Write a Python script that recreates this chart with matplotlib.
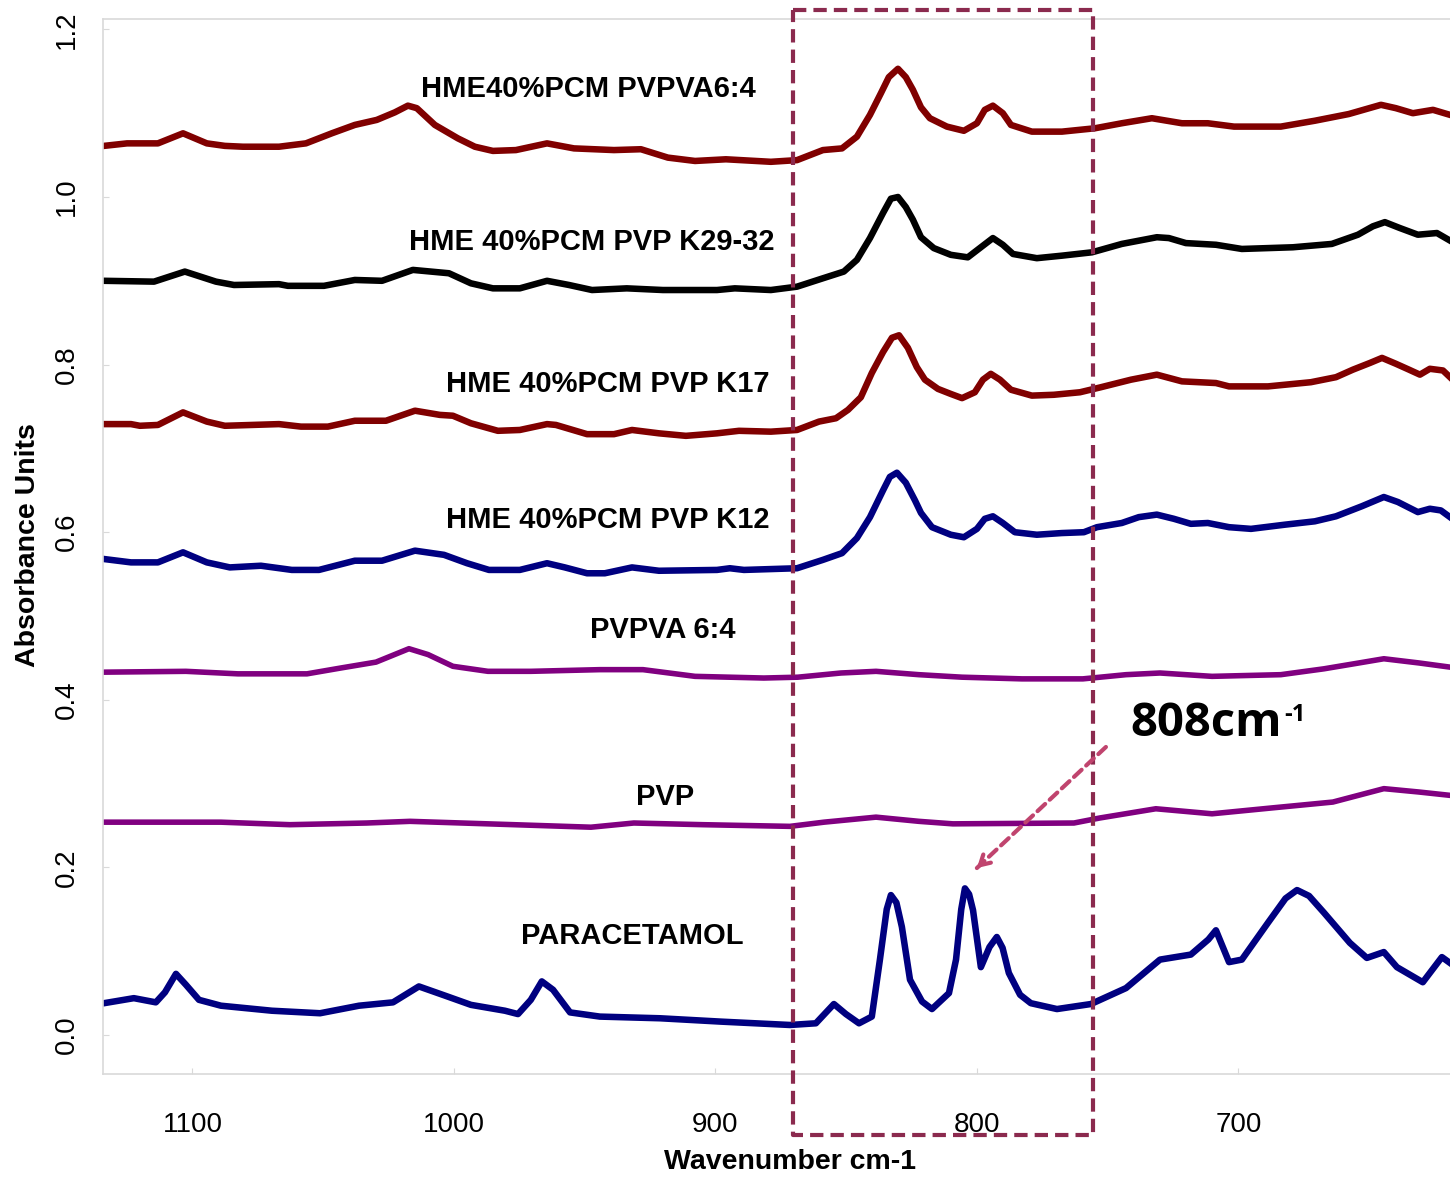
import matplotlib
matplotlib.use("Agg")
import matplotlib.pyplot as plt

plt.rcParams["font.family"] = ["Liberation Sans", "DejaVu Sans"]

# spectra: wavenumber (cm-1) and absorbance
hme_pvpva_x = [1133.8, 1125.0, 1113.2, 1103.6, 1094.5, 1087.6, 1080.7, 1066.9, 1056.6, 1046.7,
               1037.9, 1029.5, 1022.6, 1017.6, 1014.2, 1007.3, 998.5, 992.0, 985.1, 976.3,
               964.4, 954.1, 938.8, 928.5, 918.2, 907.8, 896.0, 878.8, 868.8, 858.9,
               851.6, 845.9, 840.9, 836.7, 833.7, 830.2, 827.2, 824.5, 821.4, 818.0,
               811.5, 805.0, 800.0, 797.0, 793.9, 790.1, 787.0, 779.0, 767.5, 754.9,
               744.6, 733.1, 721.6, 711.7, 701.7, 683.8, 670.8, 657.8, 645.5, 639.8,
               633.3, 625.6, 619.1]
hme_pvpva_y = [1.061, 1.064, 1.064, 1.076, 1.064, 1.061, 1.060, 1.060, 1.064, 1.076,
               1.086, 1.092, 1.101, 1.109, 1.106, 1.086, 1.070, 1.060, 1.055, 1.056,
               1.064, 1.058, 1.056, 1.057, 1.047, 1.043, 1.045, 1.042, 1.044, 1.056,
               1.058, 1.072, 1.098, 1.124, 1.143, 1.153, 1.143, 1.128, 1.107, 1.094,
               1.084, 1.079, 1.088, 1.104, 1.109, 1.100, 1.086, 1.078, 1.078, 1.082,
               1.088, 1.094, 1.088, 1.088, 1.084, 1.084, 1.091, 1.099, 1.110, 1.106,
               1.100, 1.104, 1.098]

hme_k29_x = [1133.8, 1114.7, 1102.9, 1091.0, 1084.1, 1066.9, 1063.5, 1049.7, 1037.9, 1027.5,
             1015.7, 1001.9, 993.5, 985.1, 974.8, 964.4, 956.0, 947.2, 933.9, 920.1,
             899.4, 892.6, 878.8, 868.8, 858.9, 850.9, 845.9, 840.9, 835.9, 832.9,
             830.2, 827.2, 824.5, 821.4, 816.5, 810.0, 803.5, 798.5, 793.9, 790.1,
             786.2, 777.1, 767.5, 756.0, 744.6, 731.2, 726.6, 720.1, 708.6, 698.7,
             679.2, 664.3, 654.3, 648.6, 644.0, 638.3, 631.4, 624.1, 619.1]
hme_k29_y = [0.900, 0.899, 0.911, 0.899, 0.895, 0.896, 0.894, 0.894, 0.901, 0.900,
             0.913, 0.909, 0.897, 0.891, 0.891, 0.900, 0.895, 0.889, 0.891, 0.889,
             0.889, 0.891, 0.889, 0.893, 0.903, 0.911, 0.925, 0.951, 0.981, 0.998,
             1.000, 0.988, 0.973, 0.952, 0.939, 0.931, 0.928, 0.940, 0.951, 0.943,
             0.932, 0.927, 0.930, 0.934, 0.944, 0.952, 0.951, 0.945, 0.943, 0.938,
             0.940, 0.944, 0.955, 0.965, 0.970, 0.963, 0.955, 0.957, 0.948]

hme_k17_x = [1133.8, 1123.5, 1120.1, 1113.2, 1103.6, 1094.5, 1087.6, 1077.2, 1066.9, 1058.5,
             1048.2, 1037.9, 1026.0, 1014.9, 1005.4, 1000.4, 993.5, 983.2, 974.8, 964.4,
             961.0, 949.1, 938.8, 931.9, 921.6, 911.3, 899.4, 891.0, 878.8, 868.8,
             860.4, 853.9, 849.3, 844.4, 840.2, 835.9, 832.5, 829.8, 826.4, 823.0,
             819.9, 814.9, 810.0, 805.7, 800.8, 797.7, 794.7, 791.2, 787.0, 779.0,
             770.6, 760.6, 752.6, 741.1, 731.2, 721.6, 708.6, 703.6, 688.7, 672.3,
             662.7, 656.2, 649.7, 645.1, 639.8, 634.8, 630.6, 626.8, 621.8, 619.1]
hme_k17_y = [0.729, 0.729, 0.727, 0.728, 0.743, 0.732, 0.727, 0.728, 0.729, 0.726,
             0.726, 0.733, 0.733, 0.745, 0.740, 0.739, 0.730, 0.721, 0.722, 0.729,
             0.728, 0.717, 0.717, 0.722, 0.718, 0.715, 0.718, 0.721, 0.720, 0.722,
             0.732, 0.736, 0.746, 0.761, 0.790, 0.815, 0.832, 0.835, 0.820, 0.797,
             0.782, 0.771, 0.765, 0.760, 0.767, 0.782, 0.789, 0.782, 0.770, 0.763,
             0.764, 0.767, 0.773, 0.782, 0.788, 0.780, 0.778, 0.774, 0.774, 0.779,
             0.785, 0.794, 0.802, 0.808, 0.801, 0.794, 0.788, 0.795, 0.793, 0.785]

hme_k12_x = [1133.8, 1123.5, 1113.2, 1103.6, 1094.5, 1085.7, 1073.8, 1062.0, 1051.6, 1037.9,
             1027.5, 1014.9, 1003.8, 995.0, 986.6, 974.8, 964.4, 957.6, 949.1, 942.3,
             931.9, 921.6, 899.4, 894.5, 889.1, 868.8, 858.9, 851.6, 845.9, 840.9,
             835.9, 833.3, 830.6, 827.2, 823.7, 821.4, 817.2, 810.0, 805.0, 800.0,
             797.0, 793.9, 790.1, 785.5, 777.1, 767.5, 759.1, 754.1, 744.6, 738.1,
             731.2, 724.7, 718.2, 711.7, 703.6, 695.2, 682.2, 670.8, 662.7, 652.8,
             644.4, 639.0, 631.4, 626.8, 622.6, 619.1]
hme_k12_y = [0.568, 0.564, 0.564, 0.576, 0.564, 0.558, 0.560, 0.555, 0.555, 0.566,
             0.566, 0.578, 0.573, 0.563, 0.555, 0.555, 0.563, 0.558, 0.551, 0.551,
             0.558, 0.554, 0.555, 0.557, 0.555, 0.557, 0.567, 0.575, 0.593, 0.618,
             0.650, 0.666, 0.671, 0.659, 0.638, 0.623, 0.606, 0.597, 0.594, 0.604,
             0.616, 0.619, 0.611, 0.600, 0.597, 0.599, 0.600, 0.606, 0.611, 0.618,
             0.621, 0.616, 0.610, 0.611, 0.606, 0.604, 0.609, 0.613, 0.619, 0.631,
             0.642, 0.636, 0.624, 0.628, 0.626, 0.618]

pvpva_x = [1133.8, 1102.5, 1082.6, 1056.2, 1043.2, 1029.8, 1017.2, 1009.9, 1000.4, 987.0,
           970.6, 944.2, 927.7, 907.8, 881.5, 868.5, 852.0, 838.6, 822.2, 805.7,
           782.8, 759.5, 743.0, 730.0, 710.1, 683.8, 667.3, 653.9, 644.4, 631.0, 619.1]
pvpva_y = [0.433, 0.434, 0.431, 0.431, 0.438, 0.445, 0.461, 0.454, 0.440, 0.434,
           0.434, 0.436, 0.436, 0.428, 0.426, 0.427, 0.432, 0.434, 0.430, 0.427,
           0.425, 0.425, 0.430, 0.432, 0.428, 0.430, 0.437, 0.444, 0.449, 0.444, 0.439]

pvp_x = [1133.8, 1089.1, 1062.7, 1033.3, 1016.8, 977.1, 947.6, 931.2, 904.8, 871.5,
         858.5, 838.6, 822.2, 809.2, 762.9, 753.0, 731.6, 710.1, 687.2, 663.9,
         644.4, 631.0, 619.1]
pvp_y = [0.254, 0.254, 0.251, 0.253, 0.255, 0.251, 0.248, 0.253, 0.251, 0.249,
         0.254, 0.260, 0.255, 0.252, 0.253, 0.259, 0.270, 0.264, 0.271, 0.278,
         0.294, 0.290, 0.286]

pcm_x = [1133.8, 1122.4, 1114.0, 1110.5, 1106.3, 1102.5, 1097.5, 1089.1, 1069.6, 1051.2,
         1036.3, 1023.3, 1013.4, 1003.4, 993.5, 980.5, 975.5, 970.6, 966.4, 962.1,
         955.6, 944.2, 921.2, 897.9, 871.5, 861.6, 854.7, 850.1, 845.1, 840.2,
         837.1, 834.5, 832.9, 830.8, 828.7, 825.6, 821.0, 817.2, 810.7, 808.0,
         806.0, 804.6, 803.0, 801.5, 798.5, 795.2, 792.4, 790.2, 787.8, 783.5,
         779.4, 769.4, 756.4, 743.0, 730.0, 718.2, 711.5, 708.6, 703.6,
         698.7, 688.7, 682.0, 677.6, 673.0, 667.3, 657.4, 650.9, 644.4, 639.4,
         629.5, 622.2, 619.1]
pcm_y = [0.038, 0.044, 0.039, 0.051, 0.073, 0.060, 0.042, 0.035, 0.029, 0.026,
         0.035, 0.039, 0.058, 0.047, 0.036, 0.029, 0.025, 0.042, 0.064, 0.054,
         0.027, 0.022, 0.020, 0.016, 0.012, 0.014, 0.037, 0.025, 0.014, 0.022,
         0.090, 0.150, 0.167, 0.158, 0.129, 0.066, 0.040, 0.031, 0.050, 0.090,
         0.150, 0.175, 0.168, 0.149, 0.081, 0.105, 0.117, 0.104, 0.074, 0.048,
         0.038, 0.031, 0.037, 0.056, 0.090, 0.096, 0.114, 0.125, 0.087,
         0.090, 0.134, 0.163, 0.173, 0.166, 0.146, 0.110, 0.092, 0.099, 0.081,
         0.063, 0.093, 0.086]

curve_labels = ["HME40%PCM PVPVA6:4", "HME 40%PCM PVP K29-32", "HME 40%PCM PVP K17",
                "HME 40%PCM PVP K12", "PVPVA 6:4", "PVP", "PARACETAMOL"]
label_x = [948.4, 947.2, 941.1, 941.1, 920.1, 919.3, 931.6]
label_y = [1.129, 0.946, 0.777, 0.615, 0.483, 0.284, 0.118]

x_ticks = [1100, 1000, 900, 800, 700]
y_ticks = [0.0, 0.2, 0.4, 0.6, 0.8, 1.0, 1.2]

dark_red = "#800000"
navy = "#000080"
purple = "#800080"
box_color = "#8b2a4e"
arrow_color = "#c0446e"

fig = plt.figure(figsize=(14.5, 11.78), dpi=100)
ax = fig.add_axes([103 / 1450, 104 / 1178, 1347 / 1450, 1055 / 1178])

ax.plot(hme_pvpva_x, hme_pvpva_y, color=dark_red, lw=4.7, solid_joinstyle="round")
ax.plot(hme_k29_x, hme_k29_y, color="black", lw=4.7, solid_joinstyle="round")
ax.plot(hme_k17_x, hme_k17_y, color=dark_red, lw=4.7, solid_joinstyle="round")
ax.plot(hme_k12_x, hme_k12_y, color=navy, lw=4.7, solid_joinstyle="round")
ax.plot(pvpva_x, pvpva_y, color=purple, lw=4, solid_joinstyle="round")
ax.plot(pvp_x, pvp_y, color=purple, lw=4, solid_joinstyle="round")
ax.plot(pcm_x, pcm_y, color=navy, lw=4.7, solid_joinstyle="round")

for txt, x, y in zip(curve_labels, label_x, label_y):
    ax.text(x, y, txt, ha="center", va="center", fontsize=21, fontweight="bold")

ax.set_xlim(1134.2, 619.1)
ax.set_ylim(-0.0465, 1.2124)
ax.set_xticks(x_ticks)
ax.set_xticklabels([str(t) for t in x_ticks], fontsize=20)
ax.set_yticks(y_ticks)
ax.set_yticklabels(["%.1f" % t for t in y_ticks], fontsize=20, rotation=90, va="center")
ax.tick_params(axis="both", direction="in", length=4, color="#d9d9d9")
ax.tick_params(axis="x", pad=27)
ax.tick_params(axis="y", pad=17)

for side in ["left", "bottom", "top"]:
    ax.spines[side].set_color("#d9d9d9")
    ax.spines[side].set_linewidth(1.2)
ax.spines["right"].set_visible(False)

fig.text(790 / 1450, 1 - 1162 / 1178, "Wavenumber cm-1", ha="center", va="center",
         fontsize=20.5, fontweight="bold")
fig.text(28 / 1450, 1 - 545 / 1178, "Absorbance Units", ha="center", va="center",
         rotation=90, fontsize=20.5, fontweight="bold")

# dashed box around the 808 cm-1 region
box_x = [870.4, 755.6, 755.6, 870.4, 870.4]
box_y = [1.223, 1.223, -0.119, -0.119, 1.223]
ax.plot(box_x, box_y, color=box_color, lw=3, ls=(0, (3.2, 1.7)), clip_on=False, zorder=10)

# annotation arrow and text
ax.annotate("", xy=(800.8, 0.197), xytext=(749.9, 0.346),
            arrowprops=dict(arrowstyle="-", color=arrow_color, lw=3, ls=(0, (2.5, 1.5))),
            zorder=11)
ax.annotate("", xy=(800.8, 0.197), xytext=(797.0, 0.208),
            arrowprops=dict(arrowstyle="->,head_length=0.7,head_width=0.4",
                            color=arrow_color, lw=3),
            zorder=11)
t808 = ax.text(741.5, 0.372, "808cm", ha="left", va="center", fontsize=34,
               fontweight="bold", family=["Open Sans", "DejaVu Sans"])
ax.annotate("-1", xy=(1.0, 0.93), xycoords=t808, xytext=(2, 0), textcoords="offset points",
            ha="left", va="top", fontsize=17, fontweight="bold",
            family=["Open Sans", "DejaVu Sans"])

fig.savefig("out.png", dpi=100)
